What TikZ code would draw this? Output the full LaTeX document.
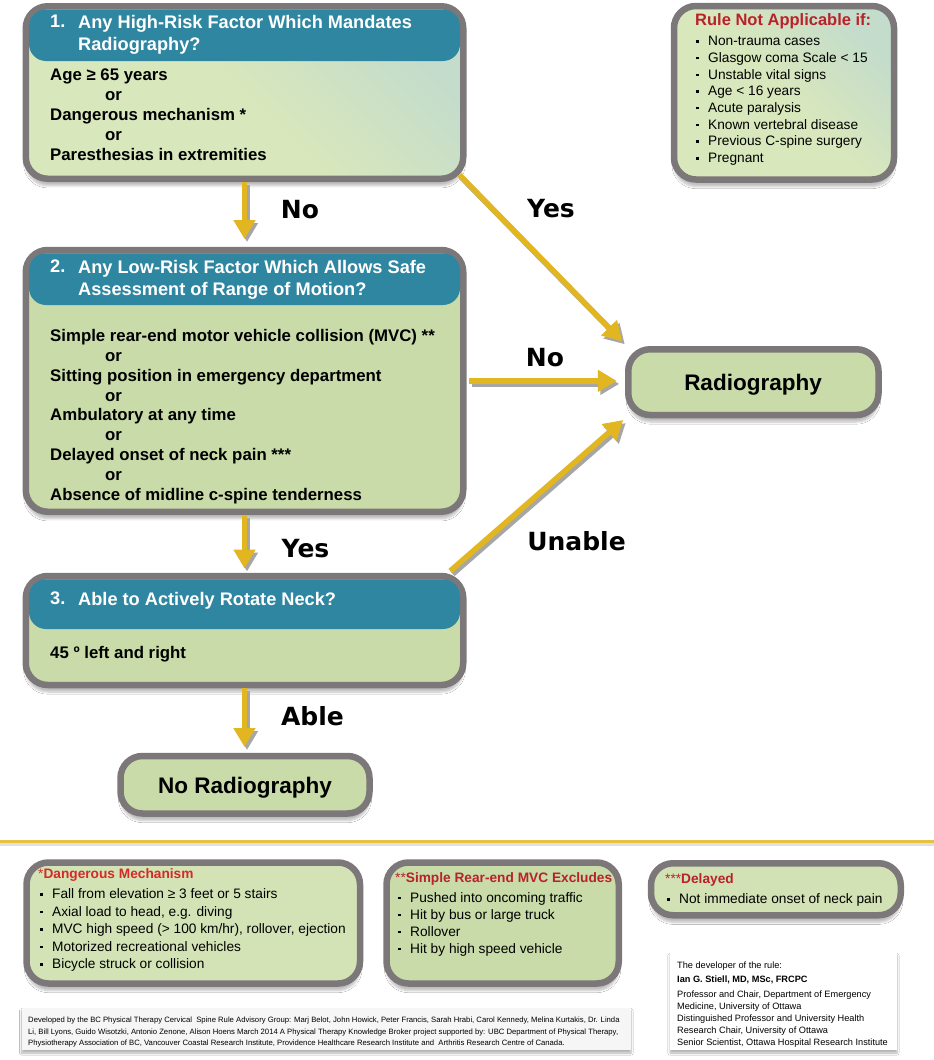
\documentclass[tikz,border=0pt]{standalone}
\usepackage{fontspec}
\setmainfont{Liberation Sans}
\newfontfamily\labelfont{DejaVu Sans}
\usetikzlibrary{arrows.meta,shadows.blur}
\definecolor{bordergray}{HTML}{7C7879}
\definecolor{boxgreen}{HTML}{C8DBA8}
\definecolor{lightgreen}{HTML}{D8E7BC}
\definecolor{tintblue}{HTML}{BCD8D0}
\definecolor{hdrblue}{HTML}{2F86A1}
\definecolor{arrowyellow}{HTML}{E2B621}
\definecolor{titlered}{HTML}{B8222A}
\definecolor{brightred}{HTML}{D42A28}
\definecolor{notegray}{HTML}{F6F6F7}
\newcommand\bul{\makebox[12pt][l]{\rule[0.22em]{2.4pt}{2.4pt}}}
\begin{document}
\begin{tikzpicture}[x=1pt,y=-1pt,
  box/.style={draw=bordergray, line width=6.5pt, rounded corners=22pt, fill=boxgreen,
    inner sep=0pt, outer sep=0pt, anchor=north west,
    blur shadow={shadow xshift=0pt, shadow yshift=-7pt, shadow opacity=25, shadow blur steps=8}},
  tinted/.style={top color=tintblue!75!lightgreen, bottom color=lightgreen, middle color=lightgreen, shading angle=-45},
  hdr/.style={fill=hdrblue, rounded corners=17pt, inner sep=0pt, outer sep=0pt, anchor=north west},
  hdrtext/.style={text=white, font=\fontsize{18.2}{22}\selectfont\bfseries, align=left, anchor=north west, inner sep=0pt},
  body/.style={font=\fontsize{16.8}{19.9}\selectfont\bfseries, align=left, anchor=north west, inner sep=0pt},
  bigtext/.style={font=\fontsize{22.5}{26}\selectfont\bfseries, anchor=base, inner sep=0pt},
  lbl/.style={font=\labelfont\fontsize{25}{30}\selectfont\bfseries, anchor=base, inner sep=0pt},
  ruletitle/.style={font=\fontsize{16.5}{20}\selectfont\bfseries, text=titlered, anchor=north west, inner sep=0pt},
  notetitle/.style={font=\fontsize{13.7}{17}\selectfont\bfseries, anchor=north west, inner sep=0pt},
  notelist/.style={font=\fontsize{13.7}{17.2}\selectfont, align=left, anchor=north west, inner sep=0pt},
  small/.style={font=\fontsize{9.2}{12}\selectfont, align=left, inner sep=0pt},
  paper/.style={inner sep=0pt, outer sep=0pt, anchor=north west,
    blur shadow={shadow xshift=0pt, shadow yshift=-3pt, shadow opacity=30, shadow blur steps=6}},
  arr/.style={draw=arrowyellow, line width=5.5pt, -{Triangle[length=19pt,width=21pt]}},
  arrshadow/.style={draw=black!35, line width=5.5pt, -{Triangle[length=19pt,width=21pt]},
    transform canvas={shift={(2.5pt,-3pt)}}}
]
\useasboundingbox (0,0) rectangle (934,1060);
\fill[white] (0,0) rectangle (934,1060);

% ---------- Box 1
\node[box, tinted, minimum width=437.5pt, minimum height=172.5pt] (b1) at (25.75,6.25) {};
\node[hdr, minimum width=431pt, minimum height=51.5pt] (h1) at (29,9.5) {};
\node[hdrtext] (n1) at (50,15) {1.};
\node[hdrtext] (t1) at (78,15) {Any High-Risk Factor Which Mandates\\Radiography?};
\node[body] (d1) at (50,69) {Age ≥ 65 years\\\hspace*{55pt}or\\Dangerous mechanism *\\\hspace*{55pt}or\\Paresthesias in extremities};

% ---------- Box 2
\node[box, minimum width=437.5pt, minimum height=261.75pt] (b2) at (25.75,250) {};
\node[hdr, minimum width=431pt, minimum height=51.75pt] (h2) at (29,253.25) {};
\node[hdrtext] (n2) at (50,260) {2.};
\node[hdrtext] (t2) at (78,260) {Any Low-Risk Factor Which Allows Safe\\Assessment of Range of Motion?};
\node[body] (d2) at (50,329) {Simple rear-end motor vehicle collision (MVC) **\\\hspace*{55pt}or\\Sitting position in emergency department\\\hspace*{55pt}or\\Ambulatory at any time\\\hspace*{55pt}or\\Delayed onset of neck pain ***\\\hspace*{55pt}or\\Absence of midline c-spine tenderness};

% ---------- Box 3
\node[box, minimum width=437.5pt, minimum height=109pt] (b3) at (25.75,576) {};
\node[hdr, minimum width=431pt, minimum height=49.75pt] (h3) at (29,579.25) {};
\node[hdrtext] (n3) at (50,592) {3.};
\node[hdrtext] (t3) at (78,592) {Able to Actively Rotate Neck?};
\node[body] (d3) at (50,646) {45 º left and right};

% ---------- Outcomes
\node[box, minimum width=249pt, minimum height=57.5pt] (nr) at (120.5,756) {};
\node[bigtext] (nrt) at (245,793) {No Radiography};
\node[box, minimum width=250.25pt, minimum height=65.75pt] (rad) at (628.25,349.25) {};
\node[bigtext] (radt) at (753,390) {Radiography};

% ---------- Rule not applicable
\node[box, tinted, minimum width=220pt, minimum height=173.5pt] (rb) at (674,6) {};
\node[ruletitle] (rbt) at (695,13) {Rule Not Applicable if:};
\node[notelist, font=\fontsize{13.7}{16.7}\selectfont] (rbl) at (696,36) {\bul Non-trauma cases\\\bul Glasgow coma Scale < 15\\\bul Unstable vital signs\\\bul Age < 16 years\\\bul Acute paralysis\\\bul Known vertebral disease\\\bul Previous C-spine surgery\\\bul Pregnant};

% ---------- Labels
\node[lbl] (lno1) at (300,218) {No};
\node[lbl] (lyes1) at (305.5,557) {Yes};
\node[lbl] (lable) at (312.5,725) {Able};
\node[lbl] (lyes2) at (551,217) {Yes};
\node[lbl] (lno2) at (545,366) {No};
\node[lbl] (lunable) at (576.5,550) {Unable};

% ---------- Arrows
\foreach \st in {arrshadow,arr}{
  \draw[\st, shorten <=3.25pt, shorten >=11pt] (b1.south) -- (b1.south |- b2.north);
  \draw[\st, shorten <=3.25pt, shorten >=7.5pt] (b2.south) -- (b2.south |- b3.north);
  \draw[\st, shorten <=3.25pt, shorten >=9pt] (b3.south) -- (b3.south |- nr.north);
  \draw[\st] ([shift={(-4,-4)}]b1.south east) -- ([shift={(-6,-8)}]rad.north west);
  \draw[\st, shorten <=6pt, shorten >=11.5pt] (b2.east) -- (b2.east -| rad.west);
  \draw[\st] ([shift={(-13,-5)}]b3.north east) -- ([shift={(-5,5)}]rad.south west);
}

% ---------- Separator
\fill[black!12] (0,842.5) rectangle (934,846);
\fill[arrowyellow!85] (0,840) rectangle (934,842.5);

% ---------- Footnote boxes
\node[box, fill=lightgreen!70!boxgreen, minimum width=333.5pt, minimum height=121pt] (fb1) at (26.5,862.5) {};
\node[notetitle, text=brightred] (fb1t) at (38,868) {{\mdseries *}Dangerous Mechanism};
\node[notelist, font=\fontsize{13.7}{17.5}\selectfont] (fb1l) at (40,888.5) {\bul Fall from elevation ≥ 3 feet or 5 stairs\\\bul Axial load to head, e.g. diving\\\bul MVC high speed (> 100 km/hr), rollover, ejection\\\bul Motorized recreational vehicles\\\bul Bicycle struck or collision};

\node[box, minimum width=232.25pt, minimum height=121pt] (fb2) at (386.5,862.5) {};
\node[notetitle, text=titlered] (fb2t) at (395,872) {{\mdseries **}Simple Rear-end MVC Excludes};
\node[notelist, font=\fontsize{13.7}{17}\selectfont] (fb2l) at (398,892) {\bul Pushed into oncoming traffic\\\bul Hit by bus or large truck\\\bul Rollover\\\bul Hit by high speed vehicle};

\node[box, fill=lightgreen!60!boxgreen, minimum width=249.75pt, minimum height=52pt] (fb3) at (651,863.25) {};
\node[notetitle, text=titlered] (fb3t) at (665,873.5) {{\mdseries ***}Delayed};
\node[notelist] (fb3l) at (667,893.5) {\bul Not immediate onset of neck pain};

% ---------- Developer box
\node[paper, fill=white, minimum width=227pt, minimum height=97.3pt] (dev) at (670,952.7) {};
\node[small, anchor=base west] (dev1) at (677,968.3) {The developer of the rule:};
\node[small, anchor=base west, font=\fontsize{9.2}{12}\selectfont\bfseries] (dev2) at (677,982.3) {Ian G. Stiell, MD, MSc, FRCPC};
\node[small, anchor=north west] (dev3) at (677,990.7) {Professor and Chair, Department of Emergency\\Medicine, University of Ottawa\\Distinguished Professor and University Health\\Research Chair, University of Ottawa\\Senior Scientist, Ottawa Hospital Research Institute};

% ---------- Credit box
\node[paper, fill=notegray, minimum width=609.3pt, minimum height=42.3pt] (cred) at (21.7,1007.7) {};
\node[inner sep=0pt, anchor=north west, align=left, font=\fontsize{7.7}{11.5}\selectfont] (credt) at (28,1017.2) {Developed by the BC Physical Therapy Cervical\ \ Spine Rule Advisory Group: Marj Belot, John Howick, Peter Francis, Sarah Hrabi, Carol Kennedy, Melina Kurtakis, Dr. Linda\\Li, Bill Lyons, Guido Wisotzki, Antonio Zenone, Alison Hoens March 2014 A Physical Therapy Knowledge Broker project supported by: UBC Department of Physical Therapy,\\Physiotherapy Association of BC, Vancouver Coastal Research Institute, Providence Healthcare Research Institute and\ \ Arthritis Research Centre of Canada.};
\end{tikzpicture}
\end{document}
